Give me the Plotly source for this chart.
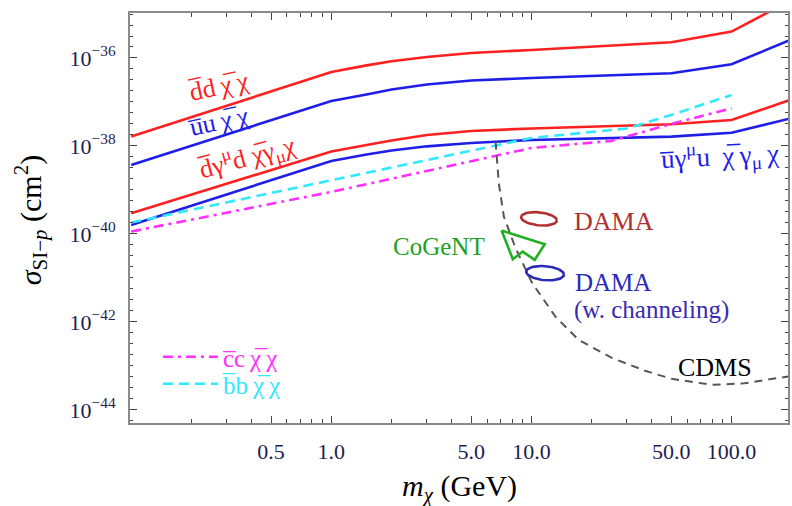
import numpy as np
import plotly.graph_objects as go

FONT = "Liberation Serif, Times New Roman, serif"

# ---------------- data ----------------
dd_x = [0.1, 1, 1.5, 2, 3, 5, 10, 50, 100, 150, 200]
dd_y = [1.64e-38, 4.8e-37, 6.8e-37, 8.4e-37, 1.05e-36, 1.30e-36, 1.52e-36, 2.28e-36, 3.98e-36, 1.05e-35, 2.1e-35]

uu_x = [0.1, 1, 1.5, 2, 3, 5, 10, 50, 100, 200]
uu_y = [3.7e-39, 1.05e-37, 1.48e-37, 1.92e-37, 2.5e-37, 3.08e-37, 3.5e-37, 4.49e-37, 7.2e-37, 2.65e-36]

dgd_x = [0.1, 1, 1.5, 2, 3, 5, 10, 50, 100, 200]
dgd_y = [2.95e-40, 7.5e-39, 1.05e-38, 1.33e-38, 1.78e-38, 2.19e-38, 2.5e-38, 3.11e-38, 3.9e-38, 1.15e-37]

ugu_x = [0.1, 1, 1.5, 2, 3, 5, 10, 50, 100, 200]
ugu_y = [1.6e-40, 4.56e-39, 6.4e-39, 7.9e-39, 9.8e-39, 1.17e-38, 1.37e-38, 1.63e-38, 2.0e-38, 4.3e-38]

cc_x = [0.1, 1, 10, 25, 50, 100]
cc_y = [1.13e-40, 9.0e-40, 9.0e-39, 1.3e-38, 3.16e-38, 7.2e-38]

bb_x = [0.1, 1, 10, 30, 50, 100]
bb_y = [1.81e-40, 1.64e-39, 1.52e-38, 2.5e-38, 5.07e-38, 1.44e-37]

cdms_x = [6.62, 6.87, 7.28, 8.32, 10.07, 13.2, 17.2, 25.2, 37, 50.2, 79.5, 116, 200]
cdms_y = [1.25e-38, 1.42e-39, 2.47e-40, 4.8e-41, 7.7e-42, 1.3e-42, 3.9e-43, 1.52e-43, 7.7e-44,
          5.07e-44, 3.7e-44, 4.0e-44, 5.9e-44]

cogent_x = [7.09, 11.65, 10.38, 9.05, 8.07, 7.09]
cogent_y = [1.19e-40, 5.83e-41, 2.56e-41, 3.96e-41, 2.66e-41, 1.19e-40]

dama_center = (10.9, 2.2e-40)
dama_ch_center = (11.7, 1.28e-41)

x_tickvals = [0.5, 1, 5, 10, 50, 100]
x_ticktext = ["0.5", "1.0", "5.0", "10.0", "50.0", "100.0"]
y_tickvals = [1e-36, 1e-38, 1e-40, 1e-42, 1e-44]
y_ticktext = ["10<sup>\u221236</sup>", "10<sup>\u221238</sup>", "10<sup>\u221240</sup>",
              "10<sup>\u221242</sup>", "10<sup>\u221244</sup>"]

# ---------------- layout geometry ----------------
W, H = 792, 506
L, R, T, B = 130, 790, 13, 423
XR = [-1.006, 2.282]
YR = [-44.3, -34.977]
X_PPD = (R - L) / (XR[1] - XR[0])
Y_PPD = (B - T) / (YR[1] - YR[0])


def paper(xp, yp):
    return (xp - L) / (R - L), (B - yp) / (B - T)


def ellipse(center, a, b, theta_deg):
    t = np.linspace(0, 2 * np.pi, 80)
    th = np.radians(theta_deg)
    dx = a * np.cos(t) * np.cos(th) - b * np.sin(t) * np.sin(th)
    dy = a * np.cos(t) * np.sin(th) + b * np.sin(t) * np.cos(th)
    return center[0] * 10 ** (dx / X_PPD), center[1] * 10 ** (dy / Y_PPD)


RED = "#ff2020"
BLUE = "#1e1ee8"
MAG = "#ff30ff"
CYAN = "#30e8ff"

fig = go.Figure()
fig.add_trace(go.Scatter(x=dd_x, y=dd_y, mode="lines", line=dict(color=RED, width=2.6), showlegend=False))
fig.add_trace(go.Scatter(x=uu_x, y=uu_y, mode="lines", line=dict(color=BLUE, width=2.6), showlegend=False))
fig.add_trace(go.Scatter(x=dgd_x, y=dgd_y, mode="lines", line=dict(color=RED, width=2.6), showlegend=False))
fig.add_trace(go.Scatter(x=ugu_x, y=ugu_y, mode="lines", line=dict(color=BLUE, width=2.6), showlegend=False))
fig.add_trace(go.Scatter(x=cc_x, y=cc_y, mode="lines", legend="legend",
                         line=dict(color=MAG, width=2.6, dash="10px,5px,3px,5px"),
                         name="<span style='color:%s'>c\u0305c\u2009\u03c7\u0305\u2009\u03c7</span>" % MAG))
fig.add_trace(go.Scatter(x=bb_x, y=bb_y, mode="lines", legend="legend2",
                         line=dict(color=CYAN, width=2.6, dash="10px,6px"),
                         name="<span style='color:%s'>b\u0305b\u2009\u03c7\u0305\u2009\u03c7</span>" % CYAN))
fig.add_trace(go.Scatter(x=cdms_x, y=cdms_y, mode="lines",
                         line=dict(color="#555555", width=2, dash="8px,6px"), showlegend=False))
fig.add_trace(go.Scatter(x=cogent_x, y=cogent_y, mode="lines",
                         line=dict(color="#22b022", width=2.6), showlegend=False))
ex, ey = ellipse(dama_center, 18, 6.5, -6)
fig.add_trace(go.Scatter(x=ex, y=ey, mode="lines", line=dict(color="#b03030", width=2.6), showlegend=False))
ex, ey = ellipse(dama_ch_center, 19, 7, -5)
fig.add_trace(go.Scatter(x=ex, y=ey, mode="lines", line=dict(color="#2a2ab8", width=2.6), showlegend=False))

annots = []


def add_text(text, xp, yp, size=20, color="black", angle=0, xanchor="center"):
    px_, py_ = paper(xp, yp)
    annots.append(dict(text=text, x=px_, y=py_, xref="paper", yref="paper", showarrow=False,
                       xanchor=xanchor, yanchor="middle", textangle=angle,
                       font=dict(family=FONT, size=size, color=color)))


add_text("d\u0305d\u2009\u03c7\u0305\u2009\u03c7", 219, 86, 26, RED, -12)
add_text("u\u0305u\u2009\u03c7\u0305\u2009\u03c7", 219, 121, 26, BLUE, -12)
add_text("d\u0305\u03b3<sup>\u03bc</sup>d \u03c7\u0305\u03b3<sub>\u03bc</sub>\u03c7", 248, 157, 26, RED, -15)
add_text("u\u0305\u03b3<sup>\u03bc</sup>u\u2009 \u03c7\u0305\u2009\u03b3<sub>\u03bc</sub>\u2009\u03c7", 721, 156, 27, BLUE, -3)
add_text("DAMA", 573, 221, 26, "#b03030", xanchor="left")
add_text("CoGeNT", 440, 246, 25, "#22a022")
add_text("DAMA", 574, 282, 25, "#2a2ab8", xanchor="left")
add_text("(w. channeling)", 573, 310, 25, "#3a2ab0", xanchor="left")
add_text("CDMS", 717, 367, 26, "black")
add_text("<i>m</i><sub><i>\u03c7</i></sub> (GeV)", 461, 488, 30, "black")
add_text("<i>\u03c3</i><sub>SI\u2212<i>p</i></sub> (cm<sup>2</sup>)", 30, 220, 30, "black", -90)

x_minor = [0.2, 0.3, 0.4, 0.6, 0.7, 0.8, 0.9, 2, 3, 4, 6, 7, 8, 9, 20, 30, 40, 60, 70, 80, 90, 200]
y_minor = [10 ** (e / 4) for e in range(-178, -139) if e % 8 != 0]

axis_common = dict(type="log", showgrid=False, zeroline=False, showline=True, linecolor="#8a8a8a",
                   linewidth=2, mirror="allticks", ticks="inside", ticklen=7, tickwidth=1.3,
                   tickcolor="#444444", ticklabelstandoff=8,
                   tickfont=dict(family=FONT, size=22, color="#1e1e50"))

legend_common = dict(xanchor="left", yanchor="middle", bgcolor="rgba(0,0,0,0)",
                     font=dict(family=FONT, size=25), itemwidth=55)

fig.update_layout(
    width=W, height=H,
    margin=dict(l=L, r=W - R, t=T, b=H - B),
    paper_bgcolor="white", plot_bgcolor="white",
    xaxis=dict(range=XR, tickmode="array", tickvals=x_tickvals, ticktext=x_ticktext,
               minor=dict(tickmode="array", tickvals=x_minor, ticks="inside", ticklen=4,
                          tickcolor="#444444", showgrid=False), **axis_common),
    yaxis=dict(range=YR, tickmode="array", tickvals=y_tickvals, ticktext=y_ticktext,
               minor=dict(tickmode="array", tickvals=y_minor, ticks="inside", ticklen=3,
                          tickcolor="#444444", showgrid=False), **axis_common),
    legend=dict(x=paper(158, 0)[0], y=paper(0, 357)[1], **legend_common),
    legend2=dict(x=paper(158, 0)[0], y=paper(0, 384)[1], **legend_common),
    annotations=annots,
)

fig.write_html("out.html")
